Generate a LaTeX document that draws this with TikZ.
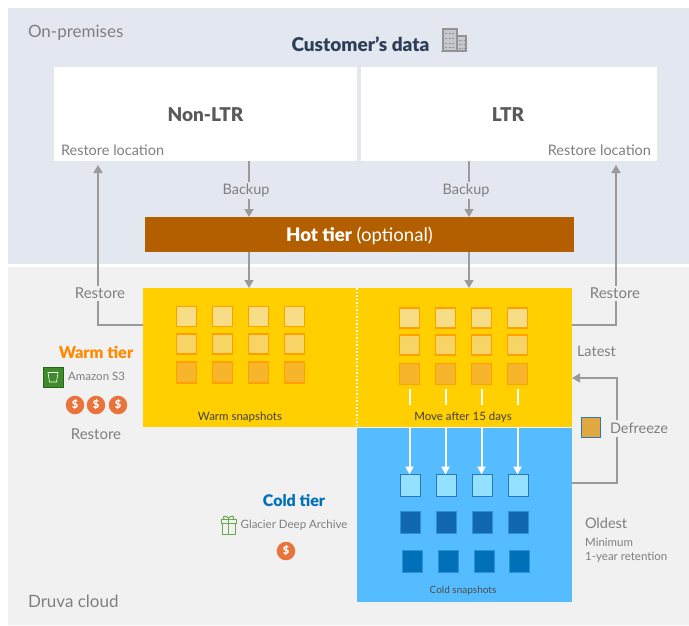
\documentclass[tikz,border=0pt]{standalone}
\usepackage{fontspec}
\setmainfont{Lato}[BoldFont={Lato Black}]
\usetikzlibrary{arrows.meta,calc}
\definecolor{toppanel}{HTML}{E3E7EF}
\definecolor{botpanel}{HTML}{F1F1F1}
\definecolor{greytxt}{HTML}{7F7F7F}
\definecolor{conncol}{HTML}{9A9A9A}
\definecolor{darktxt}{HTML}{5A5A5A}
\definecolor{navy}{HTML}{2C3E58}
\definecolor{hot}{HTML}{B35F00}
\definecolor{warmc}{HTML}{FFCF00}
\definecolor{coldc}{HTML}{55BDFF}
\definecolor{warmt}{HTML}{FF8A00}
\definecolor{coldt}{HTML}{0070B8}
\definecolor{coin}{HTML}{E8743B}
\definecolor{sqedge}{HTML}{FFA000}
\definecolor{blueedge}{HTML}{2A78B8}
\definecolor{coldedge}{HTML}{2A90DC}
\definecolor{greenicon}{HTML}{3F8A2A}
\definecolor{glacier}{HTML}{6AA84F}
\definecolor{wsqa}{HTML}{F7DD85}
\definecolor{wsqb}{HTML}{F6D465}
\definecolor{wsqc}{HTML}{F6B52A}
\definecolor{csqa}{HTML}{94E0FF}
\definecolor{csqb}{HTML}{1268B0}
\definecolor{csqc}{HTML}{0070B8}
\definecolor{defc}{HTML}{E0A83E}
\tikzset{
  lbl/.style={font=\fontsize{14.5}{16}\selectfont,text=greytxt,inner sep=0pt,outer sep=2pt,yshift=-1.3pt},
  sidel/.style={lbl,outer sep=0pt,anchor=west,yshift=.6pt},
  small/.style={font=\fontsize{11.5}{14}\selectfont,text=greytxt,inner sep=0pt,anchor=west,yshift=-.8pt},
  heading/.style={inner sep=0pt,yshift=-1pt},
  conn/.style={draw=conncol,line width=1.5pt},
  arr/.style={conn,-{Triangle[length=8pt,width=9pt]}},
  panelbox/.style={fill=white,draw=none,inner sep=0pt,outer sep=0pt},
  tierbox/.style={draw=none,inner sep=0pt,outer sep=0pt},
  sq/.style={minimum width=20pt,minimum height=20pt,inner sep=0pt,outer sep=0pt,line width=1.7pt},
  sqa/.style={sq,fill=#1,draw=sqedge},
  sqb/.style={sq,fill=#1,draw=blueedge},
  sqc/.style={sq,fill=#1,draw=coldedge,line width=1pt},
  snaptxt/.style={font=\fontsize{11.5}{13}\selectfont,text=black!75,yshift=-.8pt},
  moveline/.style={draw=white,line width=2pt},
  movearr/.style={moveline,-{Triangle[length=8pt,width=8pt]}},
  coinn/.style={circle,fill=coin,minimum size=18.5pt,inner sep=0pt,text=white,font=\bfseries\fontsize{11}{11}\selectfont},
}
\begin{document}
\begin{tikzpicture}[x=1pt,y=-1pt]
\useasboundingbox (0,0) rectangle (689,625);
\fill[toppanel] (8,8) rectangle (689,264);
\fill[botpanel] (8,267) rectangle (689,625);
\node[sidel,font=\fontsize{17}{19}\selectfont] (onprem) at (28,32) {On-premises};
\node[sidel,font=\fontsize{17}{19}\selectfont] (druva) at (28,601) {Druva cloud};
\node[heading,text=navy,font=\bfseries\fontsize{19}{21}\selectfont] (cust) at (360.5,43) {Customer’s data};
% building icon
\begin{scope}[draw=gray!85,line width=1.2pt]
\draw[fill=toppanel!70!gray] (443,29) rectangle (457,51);
\draw[fill=toppanel!70!gray] (457,36) rectangle (466,51);
\draw (441,51.5) -- (467,51.5);
\foreach \yy in {33,38,43,47}{\draw[line width=1pt,dash pattern=on 2pt off 1.5pt] (445,\yy) -- (455,\yy);}
\foreach \yy in {40,44,48}{\draw[line width=1pt,dash pattern=on 1.5pt off 1pt] (459,\yy) -- (465,\yy);}
\end{scope}
% white boxes
\node[panelbox,minimum width=303pt,minimum height=94pt] (nonltr) at (205.5,114) {};
\node[panelbox,minimum width=296pt,minimum height=94pt] (ltr) at (509,114) {};
\node[heading,text=darktxt,font=\bfseries\fontsize{19}{21}\selectfont] (nonltrt) at (205.5,114) {Non-LTR};
\node[heading,text=darktxt,font=\bfseries\fontsize{19}{21}\selectfont] (ltrt) at (508,114) {LTR};
\node[sidel] (rl1) at (61,149.5) {Restore location};
\node[sidel,anchor=east] (rl2) at (651,149.5) {Restore location};
% hot tier
\node[tierbox,fill=hot,minimum width=429pt,minimum height=35pt,text=white,font=\fontsize{18.6}{20}\selectfont,text depth=0pt,text height=13pt] (hottier) at (359.5,234.5) {\textbf{Hot tier} (optional)};
% warm/cold boxes
\node[tierbox,fill=warmc,minimum width=214pt,minimum height=139pt] (warm) at (250,357.5) {};
\node[tierbox,fill=warmc,minimum width=215pt,minimum height=139pt] (warmr) at (464.5,357.5) {};
\node[tierbox,fill=coldc,minimum width=215pt,minimum height=174pt] (cold) at (464.5,515) {};
\draw[white,line width=1.5pt,dash pattern=on 1.5pt off 2pt] (warm.north east) -- (warm.south east);
% squares
\foreach \i/\xa/\xb in {1/186.5/409.5,2/222.5/445.5,3/258.5/481.5,4/294.5/517.5}{
  \node[sqa=wsqa] (a1\i) at (\xa,316.5) {};
  \node[sqa=wsqb] (a2\i) at (\xa,344) {};
  \node[sqa=wsqc,minimum height=21pt] (a3\i) at (\xa,372.5) {};
  \node[sqa=wsqa] (b1\i) at (\xb,318) {};
  \node[sqa=wsqb] (b2\i) at (\xb,345) {};
  \node[sqa=wsqc,minimum height=21pt] (b3\i) at (\xb,374) {};
}
\foreach \i/\xa/\xb in {1/410.5/412.5,2/446.5/448.5,3/482.5/484.5,4/518.5/519.5}{
  \node[sqb=csqa,minimum height=22pt] (c1\i) at (\xa,485.5) {};
  \node[sqc=csqb,minimum height=22pt] (c2\i) at (\xa,522) {};
  \node[sqc=csqc,minimum height=22pt] (c3\i) at (\xb,561) {};
}
\foreach \i in {1,2,3,4}{
  \draw[moveline] ($(b3\i.south)+(0,4)$) -- ($(b3\i.south)+(0,20)$);
  \draw[movearr] (cold.north -| b3\i) -- (b3\i |- c1\i.north);
}
\node[snaptxt] (warmsnap) at (240,416) {Warm snapshots};
\node[snaptxt] (moveafter) at (463,416) {Move after 15 days};
\node[snaptxt,font=\fontsize{10}{12}\selectfont,text=black!70] (coldsnap) at (463,590) {Cold snapshots};
% connector labels
\node[lbl] (backup1) at (246,189) {Backup};
\node[lbl] (backup2) at (466,189) {Backup};
\node[lbl,font=\fontsize{15}{16}\selectfont] (restl) at (100,292) {Restore};
\node[lbl,font=\fontsize{15}{16}\selectfont] (restr) at (615,292) {Restore};
\node[sidel] (defreeze) at (610,428) {Defreeze};
\coordinate (bx1) at (249,0);
\coordinate (bx2) at (469,0);
\coordinate (rlx) at (98,0);
\coordinate (rrx) at (616,0);
\coordinate (dfx) at (617,0);
\coordinate (toptip) at (0,165);
\coordinate (ry) at (0,325);
\coordinate (dy) at (0,378);
\coordinate (cy) at (0,483);
\draw[conn] (nonltr.south -| bx1) -- (bx1 |- backup1.north);
\draw[arr] (bx1 |- backup1.south) -- (hottier.north -| bx1);
\draw[conn] (ltr.south -| bx2) -- (bx2 |- backup2.north);
\draw[arr] (bx2 |- backup2.south) -- (hottier.north -| bx2);
\draw[arr] (hottier.south -| bx1) -- (warm.north -| bx1);
\draw[arr] (hottier.south -| bx2) -- (warmr.north -| bx2);
\draw[conn] (warm.west |- ry) -- (rlx |- ry) -- (rlx |- restl.south);
\draw[arr] (rlx |- restl.north) -- (rlx |- toptip);
\draw[conn] (warmr.east |- ry) -- (rrx |- ry) -- (rrx |- restr.south);
\draw[arr] (rrx |- restr.north) -- (rrx |- toptip);
\draw[arr] ([yshift=3pt]dfx |- defreeze.north) -- (dfx |- dy) -- (warmr.east |- dy);
\draw[conn] (cold.east |- cy) -- (dfx |- cy) -- ([yshift=-3pt]dfx |- defreeze.south);
\node[minimum width=19pt,minimum height=20pt,inner sep=0pt,fill=defc,draw=blueedge,line width=1.7pt] (defsq) at (591,427.5) {};
% side labels
\node[sidel] (latest) at (577,351) {Latest};
\node[sidel] (oldest) at (585,523) {Oldest};
\node[small] (minim) at (585,542) {Minimum};
\node[small] (ret) at (585,556) {1-year retention};
\node[heading,text=warmt,font=\bfseries\fontsize{16.3}{18}\selectfont] (warmtl) at (96,351) {Warm tier};
\node[small] (s3) at (68,375.5) {Amazon S3};
\node[lbl,font=\fontsize{15}{16}\selectfont] (rest3) at (96,433.2) {Restore};
\foreach \n/\x in {1/75,2/96,3/118}{\node[coinn] (coin\n) at (\x,405) {\$};}
\node[heading,text=coldt,font=\bfseries\fontsize{16}{18}\selectfont] (coldtl) at (294,500) {Cold tier};
\node[small] (gda) at (240.5,524) {Glacier Deep Archive};
\node[coinn] (coin4) at (286,551) {\$};
% S3 icon
\node[fill=greenicon,minimum size=20pt,inner sep=0pt,draw=greenicon!70!black,line width=.4pt] (s3i) at (53,377) {};
\draw[white,line width=.6pt] (48,372.5) -- (58,372.5) -- (56.5,382) -- (49.5,382) -- cycle;
% glacier icon
\begin{scope}[draw=glacier,line width=1pt]
\draw (222,523) rectangle (235,534);
\draw (221,519) rectangle (236,523);
\draw (228.5,518) -- (228.5,534);
\draw (228.5,518) .. controls (225,515) and (222,516) .. (224,519);
\draw (228.5,518) .. controls (232,515) and (235,516) .. (233,519);
\end{scope}
\end{tikzpicture}
\end{document}
